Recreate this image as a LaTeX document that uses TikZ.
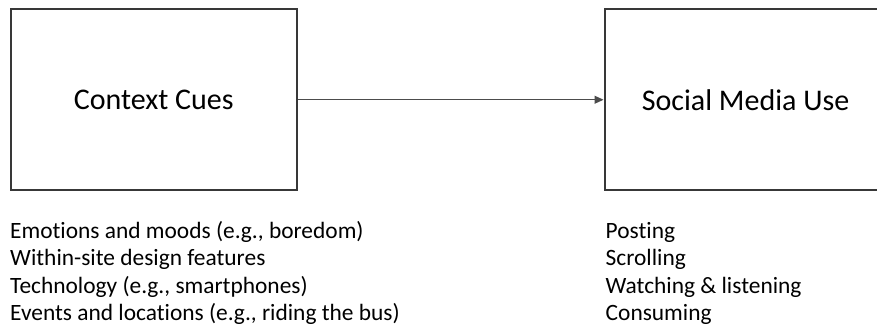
\documentclass[tikz,border=0pt]{standalone}
\usepackage{fontspec}
\setmainfont{Carlito}[Ligatures=NoCommon]
\usetikzlibrary{arrows.meta}
\begin{document}
\begin{tikzpicture}[x=1pt,y=-1pt,
  boxstyle/.style={draw=black!78,line width=2pt,minimum height=180.5pt,inner sep=0pt,anchor=north west,font=\fontsize{30}{36}\selectfont},
  liststyle/.style={align=left,anchor=base west,inner sep=0pt,font=\fontsize{23.4}{27.4}\selectfont},
  conn/.style={draw=black!70,line width=1.1pt,-{Triangle[length=9pt,width=8pt]}}]
\useasboundingbox (0,0) rectangle (877,329);
\fill[white] (0,0) rectangle (877,329);
\node[boxstyle,minimum width=286.5pt] (cc) at (9.5,8.5) {Context Cues};
\node[boxstyle,minimum width=282pt] (smu) at (603.5,8.5) {Social Media Use};
\draw[conn] (cc.east) -- (smu.west);
\node[liststyle] (cclist) at (10,320.7) {Emotions and moods (e.g., boredom)\\Within-site design features\\Technology (e.g., smartphones)\\Events and locations (e.g., riding the bus)};
\node[liststyle] (smulist) at (605.5,320.7) {Posting\\Scrolling\\Watching \& listening\\Consuming};
\end{tikzpicture}
\end{document}
